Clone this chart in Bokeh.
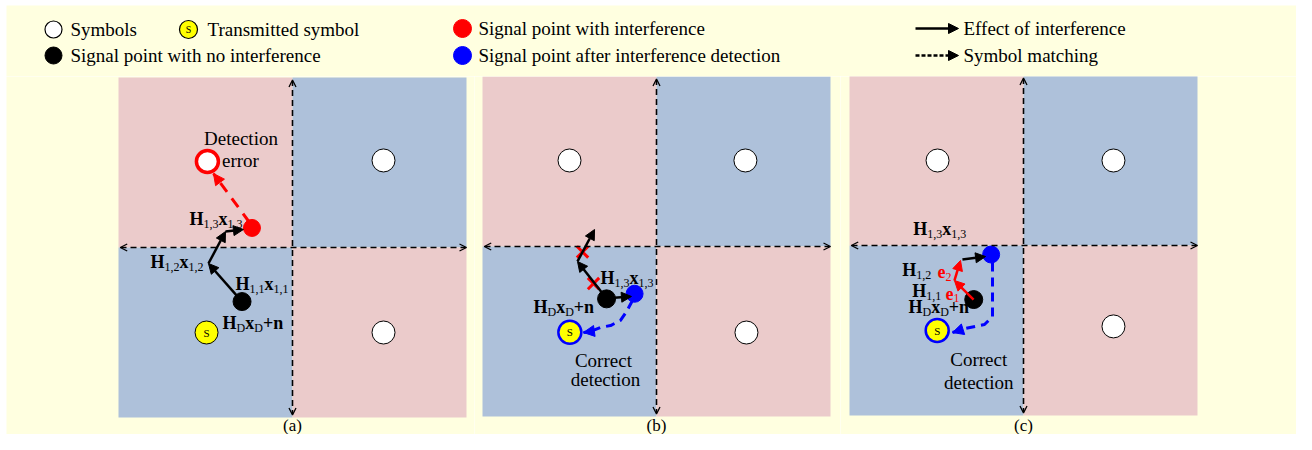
import re
from bokeh.plotting import figure
from bokeh.layouts import column, row
from bokeh.models import Arrow, NormalHead, OpenHead, Range1d
from bokeh.core.properties import value
from bokeh.embed import file_html
from bokeh.resources import INLINE

# ---------------- data (constellation units: quadrant = 1 x 1) ----------------
LEGEND_LABELS = ["Symbols", "Transmitted symbol", "Signal point with no interference",
                 "Signal point with interference", "Signal point after interference detection",
                 "Effect of interference", "Symbol matching"]
CAPTIONS = ["(a)", "(b)", "(c)"]

QUAD_L = [-1, 0, -1, 0]
QUAD_R = [0, 1, 0, 1]
QUAD_B = [0, 0, -1, -1]
QUAD_T = [1, 1, 0, 0]
QUAD_KIND = ["pink", "blue", "blue", "pink"]

# panel (a)
A_SYMBOL_X = [0.523, 0.523]
A_SYMBOL_Y = [0.512, -0.500]
A_ERROR_X = [-0.489]
A_ERROR_Y = [0.506]
A_TX_X = [-0.494]
A_TX_Y = [-0.500]
A_CLEAN_X = [-0.290]
A_CLEAN_Y = [-0.318]
A_INTF_X = [-0.233]
A_INTF_Y = [0.115]
A_STEP_X = [-0.290, -0.483, -0.385, -0.282]
A_STEP_Y = [-0.318, -0.094, 0.094, 0.106]
A_MATCH_X = [-0.247, -0.454]
A_MATCH_Y = [0.147, 0.435]
A_LABELS = ["H_{1,3}x_{1,3}", "H_{1,2}x_{1,2}", "H_{1,1}x_{1,1}", "H_{D}x_{D}+n"]
A_LABEL_X = [-0.592, -0.816, -0.328, -0.402]
A_LABEL_Y = [0.165, -0.086, -0.212, -0.447]
A_NOTES = ["Detection", "error"]
A_NOTE_X = [-0.296, -0.299]
A_NOTE_Y = [0.641, 0.512]

# panel (b)
B_SYMBOL_X = [-0.500, 0.511, 0.517]
B_SYMBOL_Y = [0.506, 0.506, -0.506]
B_TX_X = [-0.498]
B_TX_Y = [-0.504]
B_CLEAN_X = [-0.287]
B_CLEAN_Y = [-0.308]
B_DET_X = [-0.126]
B_DET_Y = [-0.278]
B_STEP_X = [-0.287, -0.454, -0.356]
B_STEP_Y = [-0.306, -0.088, 0.100]
B_SHIFT_X = [-0.264, -0.144]
B_SHIFT_Y = [-0.303, -0.294]
B_CROSS_X = [-0.362, -0.425]
B_CROSS_Y = [-0.218, -0.032]
B_MATCH_X = [-0.138, -0.172, -0.207, -0.264, -0.322, -0.379, -0.420]
B_MATCH_Y = [-0.318, -0.382, -0.435, -0.465, -0.476, -0.500, -0.506]
B_LABELS = ["H_{1,3}x_{1,3}", "H_{D}x_{D}+n"]
B_LABEL_X = [-0.322, -0.707]
B_LABEL_Y = [-0.188, -0.357]
B_NOTES = ["Correct", "detection"]
B_NOTE_X = [-0.305, -0.293]
B_NOTE_Y = [-0.671, -0.782]

# panel (c)
C_SYMBOL_X = [-0.494, 0.517, 0.517]
C_SYMBOL_Y = [0.500, 0.500, -0.476]
C_TX_X = [-0.496]
C_TX_Y = [-0.500]
C_CLEAN_X = [-0.286]
C_CLEAN_Y = [-0.318]
C_DET_X = [-0.186]
C_DET_Y = [-0.053]
C_ERR_X = [-0.287, -0.397, -0.362]
C_ERR_Y = [-0.318, -0.206, -0.088]
C_SHIFT_X = [-0.351, -0.218]
C_SHIFT_Y = [-0.082, -0.065]
C_MATCH_X = [-0.178, -0.178, -0.224, -0.333, -0.408]
C_MATCH_Y = [-0.100, -0.418, -0.465, -0.488, -0.512]
C_LABELS = ["H_{1,3}x_{1,3}", "H_{1,2}", "H_{1,1}", "H_{D}x_{D}+n"]
C_LABEL_X = [-0.634, -0.697, -0.640, -0.661]
C_LABEL_Y = [0.100, -0.147, -0.265, -0.363]
C_ERR_LABELS = ["e_{2}", "e_{1}"]
C_ERR_LABEL_X = [-0.494, -0.448]
C_ERR_LABEL_Y = [-0.153, -0.282]
C_NOTES = ["Correct", "detection"]
C_NOTE_X = [-0.257, -0.257]
C_NOTE_Y = [-0.672, -0.804]

# ---------------- style / layout ----------------
BG = "#FFFFE0"
COLORS = {"pink": "#EBCBCB", "blue": "#AEC1DA"}
RED = "#FF0000"
BLUE = "#0000FF"
FONT = "Liberation Serif"
W_TOTAL, H_TOTAL = 1296, 434
TOP_WHITE, LEFT_WHITE = 5, 6
LEG_H = 76
SX, SY = 174.0, 170.0                       # px per unit
PANELS = [  # cx, cy, left, right (layout px)
    (292, 247, 0, 474),
    (656, 246, 474, 840),
    (1023, 245, 840, 1296),
]
CAPTION_PY = 425
TXT = 19

WIDTH = {"H": .778, "x": .5, "n": .556, "+": .570, "e": .444, "D": .722,
         "1": .5, "2": .5, "3": .5, ",": .25}
SEG_RE = re.compile(r"_\{([^}]*)\}")


def parse(s):
    segs, pos = [], 0
    for m in SEG_RE.finditer(s):
        if m.start() > pos:
            segs.append((s[pos:m.start()], False))
        segs.append((m.group(1), True))
        pos = m.end()
    if pos < len(s):
        segs.append((s[pos:], False))
    return segs


def rich(p, x, y, label, color="black", main=18, sub=12):
    off = 0.0
    for t, is_sub in parse(label):
        size = sub if is_sub else main
        p.text(x=[x], y=[y], text=[t], x_offset=off, y_offset=5 if is_sub else 0,
               text_font=value(FONT), text_font_size=f"{size}px",
               text_font_style="normal" if is_sub else "bold",
               text_color=color, text_align="left", text_baseline="middle")
        off += sum(WIDTH.get(ch, .5) for ch in t) * size


def plain(p, xs, ys, texts, size=TXT, align="center"):
    p.text(x=xs, y=ys, text=texts, text_font=value(FONT), text_font_size=f"{size}px",
           text_color="black", text_align=align, text_baseline="middle")


def arrow(p, x0, y0, x1, y1, color="black", width=2.5, dash="solid", head=10, body=True):
    p.add_layout(Arrow(end=NormalHead(size=head, fill_color=color, line_color=color, line_width=1),
                       x_start=x0, y_start=y0, x_end=x1, y_end=y1,
                       line_color=color, line_width=width, line_dash=dash,
                       line_alpha=1.0 if body else 0.0))


def chain(p, xs, ys, color="black"):
    for i in range(len(xs) - 1):
        arrow(p, xs[i], ys[i], xs[i + 1], ys[i + 1], color=color)


def dashed_path(p, xs, ys, color, dash="9 6"):
    p.line(xs, ys, line_color=color, line_width=3, line_dash=dash)
    arrow(p, xs[-2], ys[-2], xs[-1], ys[-1], color=color, body=False, head=11)


def make_panel(idx):
    cx, cy, left, right = PANELS[idx]
    lb = LEFT_WHITE if idx == 0 else 0
    fl = left + lb
    p = figure(width=right - left, height=H_TOTAL - LEG_H,
               x_range=Range1d((fl - cx) / SX, (right - cx) / SX),
               y_range=Range1d((cy - H_TOTAL) / SY, (cy - LEG_H) / SY),
               x_axis_type=None, y_axis_type=None, toolbar_location=None,
               output_backend="svg", min_border=0, min_border_left=lb,
               outline_line_color=None,
               background_fill_color=BG, border_fill_color="white")
    p.quad(left=QUAD_L, right=QUAD_R, bottom=QUAD_B, top=QUAD_T,
           fill_color=[COLORS[k] for k in QUAD_KIND], line_color=None)
    p.add_layout(Arrow(start=OpenHead(size=7, line_width=1.3), end=OpenHead(size=7, line_width=1.3),
                       x_start=1.0, y_start=0, x_end=-0.99, y_end=0,
                       line_width=1.6, line_dash="6 4", line_color="black"))
    p.add_layout(Arrow(start=OpenHead(size=7, line_width=1.3), end=OpenHead(size=7, line_width=1.3),
                       x_start=0, y_start=0.985, x_end=0, y_end=-0.985,
                       line_width=1.6, line_dash="6 4", line_color="black"))
    plain(p, [0], [(cy - CAPTION_PY) / SY], [CAPTIONS[idx]], size=17)
    return p


def symbols(p, xs, ys):
    p.scatter(xs, ys, size=23, fill_color="white", line_color="black", line_width=1)


def tx(p, xs, ys, outline, lw):
    p.scatter(xs, ys, size=23, fill_color="#FFFF00", line_color=outline, line_width=lw)
    plain(p, xs, ys, ["S"] * len(xs), size=11)


# ---------------- panel (a) ----------------
pa = make_panel(0)
symbols(pa, A_SYMBOL_X, A_SYMBOL_Y)
pa.scatter(A_ERROR_X, A_ERROR_Y, size=22, fill_color="white", line_color=RED, line_width=3.5)
tx(pa, A_TX_X, A_TX_Y, "black", 1)
pa.line(A_MATCH_X, A_MATCH_Y, line_color=RED, line_width=3, line_dash="11 8")
arrow(pa, A_MATCH_X[0], A_MATCH_Y[0], A_MATCH_X[1], A_MATCH_Y[1], color=RED, body=False, head=11)
chain(pa, A_STEP_X, A_STEP_Y)
pa.scatter(A_CLEAN_X, A_CLEAN_Y, size=18, fill_color="black", line_color="black")
pa.scatter(A_INTF_X, A_INTF_Y, size=17, fill_color=RED, line_color=RED)
for lab, x, y in zip(A_LABELS, A_LABEL_X, A_LABEL_Y):
    rich(pa, x, y, lab)
plain(pa, A_NOTE_X, A_NOTE_Y, A_NOTES)

# ---------------- panel (b) ----------------
pb = make_panel(1)
symbols(pb, B_SYMBOL_X, B_SYMBOL_Y)
tx(pb, B_TX_X, B_TX_Y, BLUE, 2.5)
dashed_path(pb, B_MATCH_X, B_MATCH_Y, BLUE)
chain(pb, B_STEP_X, B_STEP_Y)
arrow(pb, B_SHIFT_X[0], B_SHIFT_Y[0], B_SHIFT_X[1], B_SHIFT_Y[1])
pb.scatter(B_CROSS_X, B_CROSS_Y, marker="x", size=16, line_color=RED, line_width=3)
pb.scatter(B_CLEAN_X, B_CLEAN_Y, size=18, fill_color="black", line_color="black")
pb.scatter(B_DET_X, B_DET_Y, size=17, fill_color=BLUE, line_color=BLUE)
for lab, x, y in zip(B_LABELS, B_LABEL_X, B_LABEL_Y):
    rich(pb, x, y, lab)
plain(pb, B_NOTE_X, B_NOTE_Y, B_NOTES)

# ---------------- panel (c) ----------------
pc = make_panel(2)
symbols(pc, C_SYMBOL_X, C_SYMBOL_Y)
tx(pc, C_TX_X, C_TX_Y, BLUE, 2.5)
dashed_path(pc, C_MATCH_X, C_MATCH_Y, BLUE)
chain(pc, C_ERR_X, C_ERR_Y, color=RED)
arrow(pc, C_SHIFT_X[0], C_SHIFT_Y[0], C_SHIFT_X[1], C_SHIFT_Y[1])
pc.scatter(C_CLEAN_X, C_CLEAN_Y, size=18, fill_color="black", line_color="black")
pc.scatter(C_DET_X, C_DET_Y, size=17, fill_color=BLUE, line_color=BLUE)
for lab, x, y in zip(C_LABELS, C_LABEL_X, C_LABEL_Y):
    rich(pc, x, y, lab)
for lab, x, y in zip(C_ERR_LABELS, C_ERR_LABEL_X, C_ERR_LABEL_Y):
    rich(pc, x, y, lab, color=RED)
plain(pc, C_NOTE_X, C_NOTE_Y, C_NOTES)

# ---------------- legend strip ----------------
lg = figure(width=W_TOTAL, height=LEG_H, x_range=Range1d(LEFT_WHITE, W_TOTAL),
            y_range=Range1d(LEG_H, TOP_WHITE),
            x_axis_type=None, y_axis_type=None, toolbar_location=None, output_backend="svg",
            min_border=0, min_border_top=TOP_WHITE, min_border_left=LEFT_WHITE,
            outline_line_color=None, background_fill_color=BG, border_fill_color="white")
lg.scatter([53], [29], size=17, fill_color="white", line_color="black", line_width=1.2)
lg.scatter([188], [29], size=18, fill_color="#FFFF00", line_color="black", line_width=1.2)
plain(lg, [188], [29], ["S"], size=10)
lg.scatter([53], [55], size=17, fill_color="black", line_color="black")
lg.scatter([462], [28], size=18, fill_color=RED, line_color=RED)
lg.scatter([462], [55], size=18, fill_color=BLUE, line_color=BLUE)
arrow(lg, 915, 28, 958, 28, width=2.5)
arrow(lg, 915, 55, 958, 55, width=2.5, dash="4 2")
plain(lg, [70, 207, 70, 478, 478, 963, 963], [29, 29, 55, 28, 55, 28, 55], LEGEND_LABELS, align="left")

layout = column(lg, row(pa, pb, pc, spacing=0), spacing=0)
open("out.html", "w").write(file_html(layout, INLINE))
